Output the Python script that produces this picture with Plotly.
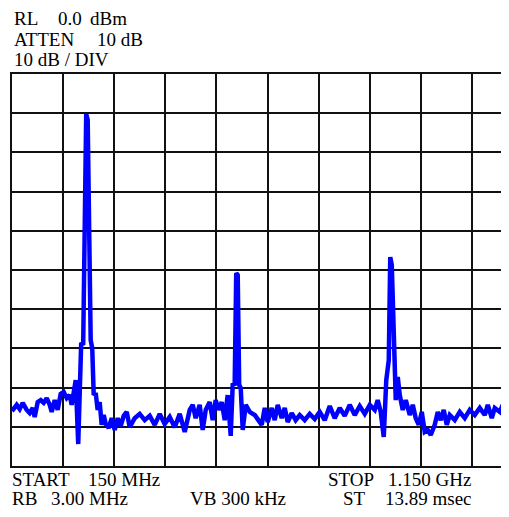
import plotly.graph_objects as go

# Sweep: frequency (MHz) and level (dBm)
freq_mhz = [150.0, 159.2, 165.1, 170.9, 178.8, 184.6, 190.5, 194.4, 200.3, 206.2,
            212.0, 217.9, 223.8, 227.7, 233.6, 239.4, 245.3, 251.2, 257.1, 262.9,
            266.8, 270.7, 274.7, 279.6, 282.5, 285.4, 289.3, 292.3, 295.2, 298.1,
            301.1, 304.0, 307.0, 309.9, 313.8, 317.7, 321.6, 325.5, 329.5, 333.4,
            339.2, 345.1, 351.0, 356.9, 362.7, 368.6, 374.5, 380.3, 390.1, 399.9,
            409.7, 419.5, 429.3, 439.1, 448.8, 458.6, 468.4, 478.2, 488.0, 497.8,
            503.7, 509.5, 517.3, 523.2, 529.1, 536.9, 542.8, 548.6, 554.5, 560.4,
            566.3, 572.1, 578.0, 581.9, 585.8, 588.8, 591.7, 594.6, 597.6, 601.5,
            607.4, 615.2, 625.0, 630.9, 638.7, 644.6, 650.4, 658.3, 664.1, 670.0,
            677.8, 683.7, 689.6, 697.4, 705.2, 713.0, 722.8, 732.6, 742.4, 752.2,
            762.0, 771.8, 781.5, 791.3, 801.1, 810.9, 820.7, 830.5, 840.3, 850.1,
            859.9, 865.7, 871.6, 877.5, 882.4, 887.3, 890.2, 893.2, 897.1, 901.0,
            904.9, 908.8, 914.7, 920.6, 928.4, 934.3, 940.1, 946.0, 951.9, 957.7,
            963.6, 969.5, 977.3, 983.2, 989.1, 994.9, 1000.8, 1006.7, 1016.5, 1026.2,
            1036.0, 1045.8, 1055.6, 1065.4, 1075.2, 1081.1, 1088.9, 1094.8, 1104.6, 1110.4,
            1116.3, 1122.2]
level_dbm = [-86.0, -84.4, -85.5, -83.9, -85.7, -86.5, -85.2, -87.5, -83.7, -83.2,
             -83.9, -82.7, -84.4, -86.2, -83.2, -85.7, -81.6, -81.1, -82.7, -81.9,
             -84.4, -81.4, -78.1, -94.4, -77.6, -68.6, -69.1, -32.0, -10.2, -11.7,
             -47.4, -67.9, -69.9, -81.9, -81.4, -85.7, -83.7, -89.5, -87.0, -89.3,
             -90.3, -87.8, -90.8, -87.8, -89.8, -87.2, -86.2, -90.1, -87.8, -86.7,
             -88.3, -87.2, -89.5, -86.7, -89.3, -87.5, -90.1, -86.7, -91.3, -85.7,
             -84.4, -87.8, -84.4, -90.8, -85.7, -83.7, -88.3, -83.2, -85.7, -83.7,
             -88.3, -81.9, -92.3, -79.3, -79.1, -50.8, -51.3, -79.3, -80.1, -90.8,
             -84.4, -86.2, -87.0, -88.3, -89.5, -85.2, -88.8, -85.2, -88.3, -84.4,
             -87.8, -85.2, -88.8, -86.5, -88.3, -87.0, -88.3, -86.7, -88.0, -86.2,
             -88.3, -84.7, -87.8, -85.2, -87.2, -84.4, -87.0, -84.7, -86.7, -84.4,
             -85.7, -83.2, -86.2, -92.6, -78.1, -73.0, -46.7, -48.7, -70.4, -83.2,
             -77.3, -81.9, -85.7, -83.2, -87.0, -84.4, -87.8, -89.5, -86.2, -91.3,
             -90.8, -92.1, -89.5, -86.2, -88.3, -85.7, -89.5, -87.0, -88.3, -86.2,
             -87.8, -85.7, -87.0, -85.2, -87.0, -84.4, -87.8, -85.2, -86.2, -84.4,
             -85.7, -83.7]

# Header / footer texts with their target pixel positions (page coordinates)
top_labels = [("RL", 14, 18), ("0.0", 58, 18), ("dBm", 90, 18),
              ("ATTEN", 14, 39), ("10 dB", 97, 39),
              ("10 dB / DIV", 14, 60)]
bottom_labels = [("START", 12, 479), ("150 MHz", 88, 479),
                 ("STOP", 328, 479), ("1.150 GHz", 388, 479),
                 ("RB", 12, 498), ("3.00 MHz", 51, 498),
                 ("VB 300 kHz", 190, 498),
                 ("ST", 343, 498), ("13.89 msec", 385, 498)]

OFF = 8  # default page body margin
W, H = 509 - OFF, 517 - OFF
ML, MR, MT, MB = 12 - OFF, 0, 74 - OFF, 51
PW, PH = W - ML - MR, H - MT - MB


def px_to_paper(px, py):
    # page pixel -> paper coordinate
    fx, fy = px - OFF, py - OFF
    return (fx - ML) / PW, 1 - (fy - MT) / PH


fig = go.Figure()
fig.add_trace(go.Scatter(x=freq_mhz, y=level_dbm, mode="lines",
                         line=dict(color="#0000ff", width=4.5),
                         hoverinfo="skip", showlegend=False))

annotations = []
for text, px, py in top_labels + bottom_labels:
    ax, ay = px_to_paper(px - 2, py)
    annotations.append(dict(text=text, x=ax, y=ay, xref="paper", yref="paper",
                            xanchor="left", yanchor="middle", showarrow=False,
                            font=dict(family="Liberation Serif", size=19, color="#000")))

fig.update_layout(
    width=W, height=H,
    margin=dict(l=ML, r=MR, t=MT, b=MB, pad=0),
    paper_bgcolor="white", plot_bgcolor="white",
    annotations=annotations,
    xaxis=dict(range=[150, 150 + PW / 51.1 * 100], tick0=150, dtick=100,
               showgrid=True, gridcolor="#111", gridwidth=2,
               showline=True, linecolor="#111", linewidth=2, mirror=True,
               showticklabels=False, ticks="", zeroline=False, fixedrange=True),
    yaxis=dict(range=[-100, 0], tick0=0, dtick=10,
               showgrid=True, gridcolor="#111", gridwidth=2,
               showline=True, linecolor="#111", linewidth=2, mirror=False,
               showticklabels=False, ticks="", zeroline=False, fixedrange=True),
)

fig.write_html("out.html", config={"displayModeBar": False})
